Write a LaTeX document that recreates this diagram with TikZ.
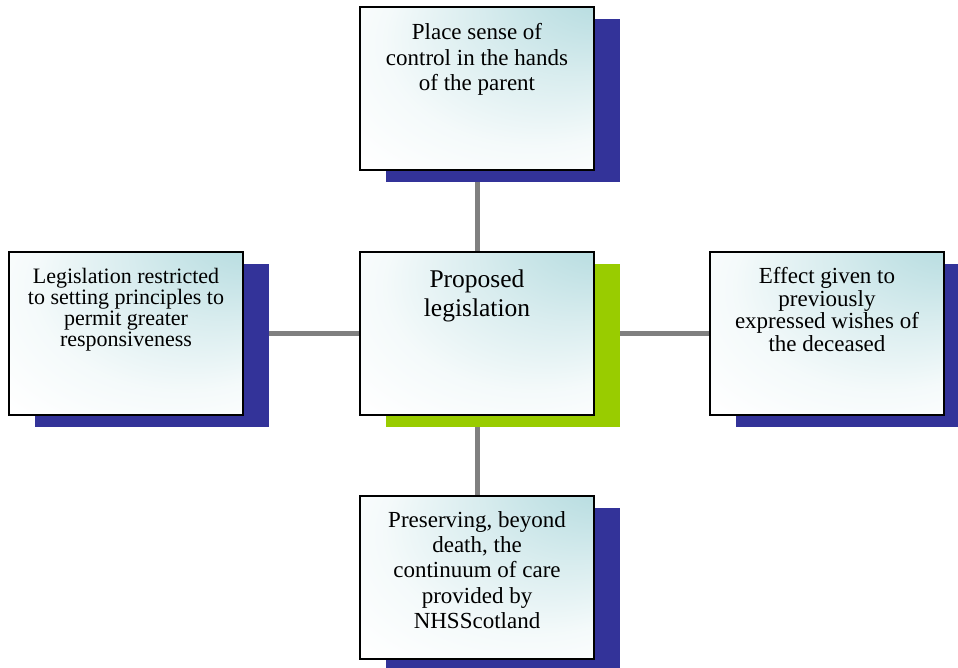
\documentclass[tikz,border=0pt]{standalone}
\usepackage{fontspec}
\setmainfont{Liberation Serif}
\usetikzlibrary{positioning, shadows, backgrounds}

\definecolor{cardteal}{RGB}{178,218,222}
\definecolor{navyshadow}{RGB}{51,51,153}
\definecolor{limeshadow}{RGB}{153,204,0}
\definecolor{linkgray}{RGB}{128,128,128}

\pgfdeclareradialshading{cardglow}{\pgfpoint{34bp}{40bp}}{%
  color(0bp)=(cardteal); color(8bp)=(cardteal!92!white);
  color(20bp)=(cardteal!50!white); color(32bp)=(cardteal!14!white);
  color(42bp)=(white); color(50bp)=(white)}

\newcommand{\cardtext}[2]{\parbox[c][163pt][t]{234pt}{\centering\vspace*{#1}#2\par}}

\begin{document}
\begin{tikzpicture}[
  x=1pt, y=-1pt,
  card/.style={
    rectangle, draw=black, line width=1.5pt, inner sep=0pt, outer sep=0pt,
    shade, shading=cardglow,
    drop shadow={shadow xshift=26pt, shadow yshift=-12pt, fill=#1, opacity=1}
  },
  card/.default=navyshadow,
  link/.style={draw=linkgray, line width=5pt}
]
\useasboundingbox (0,0) rectangle (958,667);

% Central box
\node[card=limeshadow, font=\fontsize{25.5}{29}\selectfont] (proposal) at (477,333.5)
  {\cardtext{17.6pt}{Proposed\\legislation}};

% Surrounding boxes
\node[card, above=82pt of proposal, font=\fontsize{23}{25.7}\selectfont] (control)
  {\cardtext{16.3pt}{Place sense of\\control in the hands\\of the parent}};
\node[card, left=117pt of proposal, font=\fontsize{22}{21}\selectfont] (principles)
  {\cardtext{16pt}{Legislation restricted\\to setting principles to\\permit greater\\responsiveness}};
\node[card, right=116pt of proposal, font=\fontsize{23}{22.5}\selectfont] (wishes)
  {\cardtext{15.3pt}{Effect given to\\previously\\expressed wishes of\\the deceased}};
\node[card, below=81pt of proposal, font=\fontsize{23}{25.3}\selectfont] (continuum)
  {\cardtext{15.3pt}{Preserving, beyond\\death, the\\continuum of care\\provided by\\NHSScotland}};

% Connectors
\begin{scope}[on background layer]
  \draw[link] (proposal) -- (control);
  \draw[link] (proposal) -- (principles);
  \draw[link] (proposal) -- (wishes);
  \draw[link] (proposal) -- (continuum);
\end{scope}

\end{tikzpicture}
\end{document}
